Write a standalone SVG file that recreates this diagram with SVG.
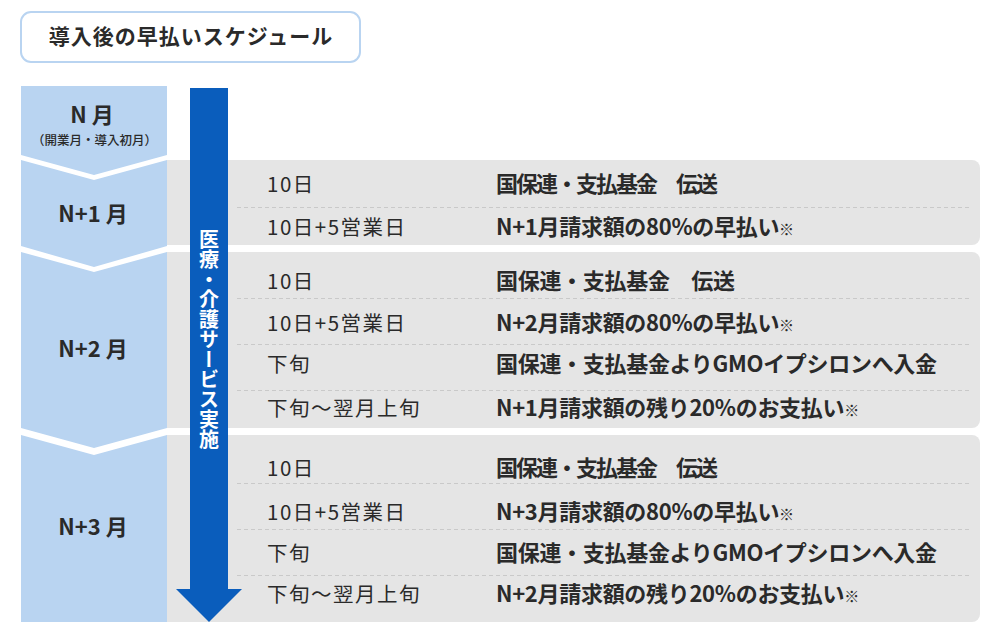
<svg xmlns="http://www.w3.org/2000/svg" width="1000" height="635" viewBox="0 0 1000 635">
<style>
text{font-family:"Noto Sans CJK JP","Noto Sans",sans-serif;fill:#2a2a2a}
.title{font-size:21px;font-weight:700;letter-spacing:1px}
.month{font-size:22px;font-weight:700}
.sub{font-size:12.5px;font-weight:500}
.when{font-size:20.5px;font-weight:400;letter-spacing:1.5px}
.what{font-size:22px;font-weight:700;letter-spacing:-0.3px}
.tight{letter-spacing:-2px}
.note{font-size:15px;font-weight:400}
.vert{font-size:20px;font-weight:700;fill:#ffffff;writing-mode:vertical-rl}
.panel{fill:#e5e5e5}
.dash{stroke:#c9c9c9;stroke-width:1;stroke-dasharray:4 3;fill:none}
</style>
<rect width="1000" height="635" fill="#ffffff"/>
<g id="title">
<rect x="21" y="12" width="339" height="50" rx="10" fill="#ffffff" stroke="#b9d4f1" stroke-width="2"/>
<text class="title" x="191" y="44" text-anchor="middle">導入後の早払いスケジュール</text>
</g>
<g id="months">
<rect x="21" y="86" width="146" height="536" fill="#b9d4f1"/>
<polygon points="21,155 94,175 167,155 167,160 94,180 21,160" fill="#ffffff"/>
<polygon points="21,246 94,267 167,246 167,252 94,272 21,252" fill="#ffffff"/>
<polygon points="21,428 94,448 167,428 167,435 94,455 21,435" fill="#ffffff"/>
</g>
<g id="panels">
<path class="panel" d="M167,160 H972 a8,8 0 0 1 8,8 V237 a8,8 0 0 1 -8,8 H167 Z"/>
<path class="panel" d="M167,252 H972 a8,8 0 0 1 8,8 V420 a8,8 0 0 1 -8,8 H167 Z"/>
<path class="panel" d="M167,435 H972 a8,8 0 0 1 8,8 V614 a8,8 0 0 1 -8,8 H167 Z"/>
</g>
<g id="connectors">
<path class="dash" d="M237,207.5 H970"/>
<path class="dash" d="M237,298.5 H970 M237,344.5 H970 M237,390.5 H970"/>
<path class="dash" d="M237,483.5 H970 M237,529.5 H970 M237,575.5 H970"/>
</g>
<g id="month-n">
<text class="month" x="92" y="123" text-anchor="middle">N 月</text>
<text class="sub" x="94.5" y="145" text-anchor="middle">（開業月・導入初月）</text>
</g>
<g id="month-n1"><text class="month" x="93" y="222" text-anchor="middle">N+1 月</text></g>
<g id="month-n2"><text class="month" x="93" y="357" text-anchor="middle">N+2 月</text></g>
<g id="month-n3"><text class="month" x="93" y="535" text-anchor="middle">N+3 月</text></g>
<g id="service-arrow">
<rect x="190" y="88" width="38" height="502" fill="#0a5dbc"/>
<polygon points="176,589 242,589 209,622" fill="#0a5dbc"/>
<text class="vert" x="209" y="229">医療・介護サービス実施</text>
</g>
<g id="rows-n1">
<text class="when" x="267" y="192">10日</text>
<text class="what tight" x="496" y="192">国保連・支払基金　伝送</text>
<text class="when" x="267" y="235">10日+5営業日</text>
<text class="what" x="496" y="235">N+1月請求額の80%の早払い<tspan class="note">※</tspan></text>
</g>
<g id="rows-n2">
<text class="when" x="267" y="289">10日</text>
<text class="what" x="496" y="289">国保連・支払基金　伝送</text>
<text class="when" x="267" y="331">10日+5営業日</text>
<text class="what" x="496" y="331">N+2月請求額の80%の早払い<tspan class="note">※</tspan></text>
<text class="when" x="267" y="372">下旬</text>
<text class="what" x="496" y="372">国保連・支払基金よりGMOイプシロンへ入金</text>
<text class="when" x="267" y="416">下旬〜翌月上旬</text>
<text class="what" x="496" y="416">N+1月請求額の残り20%のお支払い<tspan class="note">※</tspan></text>
</g>
<g id="rows-n3">
<text class="when" x="267" y="476">10日</text>
<text class="what tight" x="496" y="476">国保連・支払基金　伝送</text>
<text class="when" x="267" y="520">10日+5営業日</text>
<text class="what" x="496" y="520">N+3月請求額の80%の早払い<tspan class="note">※</tspan></text>
<text class="when" x="267" y="561">下旬</text>
<text class="what" x="496" y="561">国保連・支払基金よりGMOイプシロンへ入金</text>
<text class="when" x="267" y="602">下旬〜翌月上旬</text>
<text class="what" x="496" y="602">N+2月請求額の残り20%のお支払い<tspan class="note">※</tspan></text>
</g>
</svg>
